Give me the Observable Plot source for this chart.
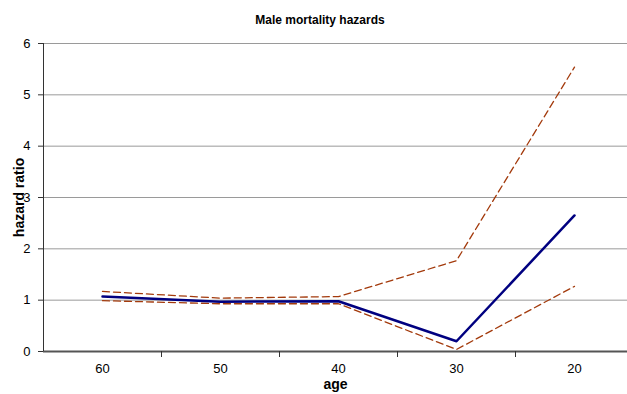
<!DOCTYPE html>
<html>
<head>
<meta charset="utf-8">
<script src="https://cdn.jsdelivr.net/npm/d3@7"></script>
<script src="https://cdn.jsdelivr.net/npm/@observablehq/plot@0.6"></script>
<style>
  body { margin: 0; background: #fff; font-family: "Liberation Sans", Arial, sans-serif; }
  #wrap { width: 627px; }
  .title { height: 30px; box-sizing: border-box; padding-top: 14px; padding-left: 13px;
           font: bold 12px/12px "Liberation Sans", Arial, sans-serif; text-align: center; color: #000; }
</style>
</head>
<body>
<div id="wrap">
  <div class="title">Male mortality hazards</div>
  <div id="chart"></div>
</div>
<script>
// Age groups (categories along the x axis)
const ages = ["60", "50", "40", "30", "20"];
// Hazard ratio estimate per age group
const hazard = [1.07, 0.97, 0.98, 0.20, 2.65];
// Upper and lower confidence bounds
const upper = [1.17, 1.04, 1.07, 1.77, 5.54];
const lower = [0.99, 0.93, 0.93, 0.04, 1.27];
// Y axis tick values
const yTicks = [0, 1, 2, 3, 4, 5, 6];

const rows = ages.map((age, i) => ({age, hazard: hazard[i], upper: upper[i], lower: lower[i]}));

const left = 43, right = 633;
const halfBand = (right - left) / ages.length / 2;

const chart = Plot.plot({
  width: 627,
  height: 364,
  marginTop: 13,
  marginBottom: 43,
  marginLeft: left,
  marginRight: 0,
  style: {fontFamily: "'Liberation Sans', Arial, sans-serif", background: "#fff", color: "#000"},
  x: {type: "band", domain: ages, range: [left, right], padding: 0},
  y: {domain: [0, 6]},
  marks: [
    Plot.gridY(yTicks.slice(1), {stroke: "#9a9a9a", strokeOpacity: 1, strokeWidth: 1}),
    // x axis line and category boundary ticks
    Plot.ruleY([0], {stroke: "#555", strokeWidth: 2}),
    Plot.ruleX(ages.slice(1), {y1: 0, y2: 0, insetBottom: -6, dx: -halfBand, stroke: "#333"}),
    // y axis line
    Plot.ruleX([ages[0]], {y1: 0, y2: 6, dx: -halfBand, stroke: "#333"}),
    Plot.axisY({ticks: yTicks, tickFormat: d3.format("d"), tickSize: 5, tickPadding: 8, fontSize: 13, stroke: "#333", label: null}),
    Plot.axisX({tickSize: 0, tickPadding: 12, fontSize: 13, label: null}),
    // axis titles
    Plot.text(["hazard ratio"], {frameAnchor: "left", textAnchor: "middle", dx: -24, rotate: -90, fontSize: 14, fontWeight: "bold", fill: "#000"}),
    Plot.text(["age"], {frameAnchor: "bottom", dy: 37, fontSize: 14, fontWeight: "bold", fill: "#000"}),
    // confidence bounds
    Plot.lineY(rows, {x: "age", y: "upper", stroke: "#a33a0c", strokeWidth: 1.3, strokeDasharray: "7,4"}),
    Plot.lineY(rows, {x: "age", y: "lower", stroke: "#a33a0c", strokeWidth: 1.3, strokeDasharray: "7,4"}),
    // estimate
    Plot.lineY(rows, {x: "age", y: "hazard", stroke: "#000080", strokeWidth: 2.5})
  ]
});
document.getElementById("chart").appendChild(chart);
</script>
</body>
</html>
